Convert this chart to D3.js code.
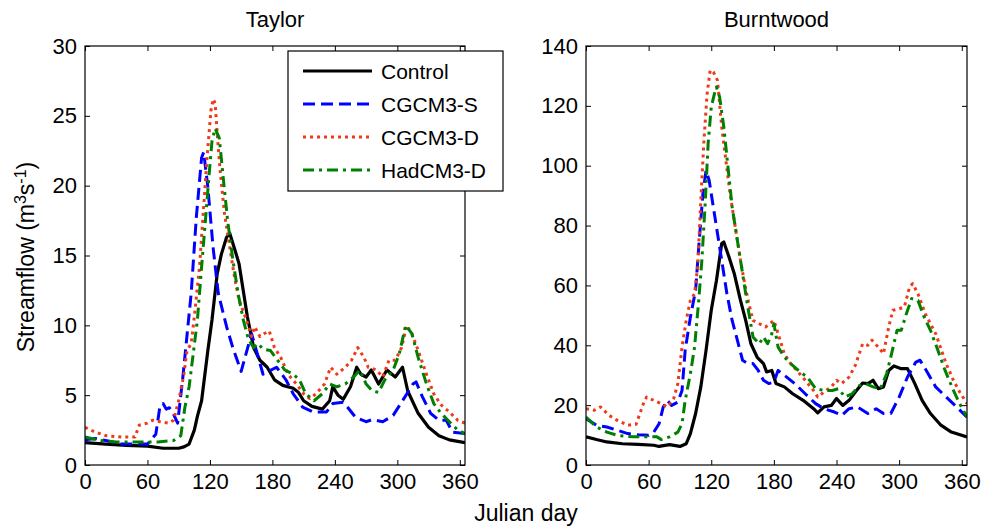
<!DOCTYPE html>
<html>
<head>
<meta charset="utf-8">
<script src="https://cdn.jsdelivr.net/npm/d3@7"></script>
<style>
	body { margin: 0; background: #fff; }
	text { font-family: "Liberation Sans", Arial, sans-serif; fill: #000; }
</style>
</head>
<body>
<div id="chart"></div>
<script>
const WIDTH = 985;
const HEIGHT = 531;
const FONT_SIZE = 22;
const LABEL_SIZE = 23;

const SERIES_NAMES = ['Control', 'CGCM3-S', 'CGCM3-D', 'HadCM3-D'];
const DAY_TICKS = [0, 60, 120, 180, 240, 300, 360];
const TAYLOR_TICKS = [0, 5, 10, 15, 20, 25, 30];
const BURNTWOOD_TICKS = [0, 20, 40, 60, 80, 100, 120, 140];

// [julian day, streamflow m3/s]
const taylorControl = [[0,1.6],[20,1.5],[40,1.4],[60,1.35],[75,1.2],[90,1.2],[95,1.3],[100,1.5],[105,2.5],[108,3.5],[112,4.6],[118,8.2],[122,10.4],[127,13.7],[131,15.1],[136,16.3],[139,16.6],[144,15.4],[148,14.4],[152,12.5],[156,10.6],[162,8.4],[168,7.5],[175,7.0],[182,6.1],[190,5.7],[200,5.5],[205,5.2],[210,4.6],[218,4.2],[228,4.0],[235,4.6],[238,5.6],[243,5.0],[248,4.7],[255,5.6],[261,7.0],[265,6.5],[270,6.3],[275,6.8],[282,5.8],[290,6.8],[298,6.3],[305,7.0],[310,5.3],[320,3.7],[330,2.7],[340,2.1],[350,1.8],[365,1.6]];
const taylorCgcmS = [[0,1.8],[10,1.9],[20,1.75],[35,1.5],[50,1.5],[60,1.5],[68,2.2],[72,4.2],[75,4.4],[78,4.0],[81,4.1],[84,3.8],[89,3.0],[94,6.3],[102,12.3],[107,17.8],[112,22.0],[114,22.4],[118,19.9],[123,15.6],[128,12.3],[136,9.9],[142,8.4],[150,6.7],[160,9.4],[171,6.5],[184,7.0],[193,6.1],[200,5.1],[209,4.15],[219,3.8],[232,3.8],[238,4.4],[248,4.5],[252,4.15],[260,3.4],[270,3.1],[276,3.25],[286,3.1],[296,3.55],[305,4.6],[315,5.8],[318,5.95],[324,4.9],[332,3.7],[340,3.2],[347,3.2],[353,2.35],[365,2.25]];
const taylorCgcmD = [[0,2.7],[10,2.35],[20,2.1],[35,2.0],[48,2.0],[52,2.85],[60,3.0],[65,3.2],[72,3.1],[80,3.0],[85,3.2],[90,4.6],[95,6.5],[98,8.2],[102,8.7],[105,10.6],[110,14.2],[114,18.5],[117,21.8],[121,25.4],[123,26.2],[125,25.9],[127,23.7],[130,20.9],[134,18.0],[138,16.1],[143,13.7],[148,11.8],[155,10.4],[160,9.2],[163,9.9],[168,9.2],[172,9.4],[177,9.6],[182,8.4],[188,7.7],[195,6.5],[203,5.8],[210,5.1],[216,4.75],[222,5.1],[230,5.8],[236,7.0],[242,6.5],[250,7.0],[256,7.5],[262,8.4],[268,7.7],[272,7.0],[280,6.8],[286,6.3],[292,7.5],[298,7.5],[304,8.4],[309,10.0],[314,9.4],[320,8.2],[328,6.5],[335,5.1],[342,4.3],[350,3.8],[358,3.2],[365,3.0]];
const taylorHadcmD = [[0,2.0],[15,1.75],[30,1.65],[50,1.65],[70,1.65],[85,1.75],[92,2.1],[96,4.15],[100,5.6],[104,8.0],[108,10.4],[112,14.2],[116,17.8],[119,20.6],[122,23.2],[125,24.1],[129,23.4],[133,20.4],[137,17.5],[142,14.7],[147,12.3],[152,10.4],[157,9.0],[162,8.4],[166,8.7],[171,8.3],[178,8.2],[185,7.5],[192,6.8],[200,6.5],[206,6.1],[212,5.1],[220,4.6],[228,5.1],[235,5.8],[242,5.6],[250,5.8],[258,6.3],[264,6.8],[270,5.8],[276,5.3],[282,5.2],[288,6.1],[296,6.8],[302,8.0],[308,10.0],[314,9.4],[320,7.7],[328,5.8],[335,4.4],[342,3.7],[350,3.1],[358,2.5],[365,2.25]];

const burntControl = [[0,9.4],[10,8.5],[20,7.7],[35,7.1],[50,6.9],[65,6.6],[70,6.2],[80,6.8],[90,6.2],[96,7.1],[100,10.5],[105,17.2],[110,26.1],[115,38.3],[120,51.7],[125,61.7],[130,74],[132,74.5],[137,69.5],[142,64],[148,55],[153,48.3],[158,40.5],[164,36],[170,33.9],[173,31.1],[178,31.6],[182,27.2],[190,26.1],[198,23.8],[208,21.6],[218,18.8],[222,17.4],[228,19.4],[235,19.9],[240,22.2],[246,19.9],[252,21.6],[258,24.4],[265,27.4],[270,27.2],[275,28.3],[280,25.5],[285,26.1],[290,31.6],[295,33.1],[302,32.2],[308,32.2],[315,27.2],[322,21.6],[330,17.2],[340,13.3],[350,11.0],[365,9.4]];
const burntCgcmS = [[0,15.5],[10,13.3],[20,12.7],[30,11.6],[40,10.5],[50,10.1],[60,9.9],[65,11.0],[70,13.8],[74,19.4],[78,21.6],[82,19.9],[88,21.0],[92,24.9],[95,38.3],[100,49.4],[105,58.4],[108,72.8],[112,90.7],[115,98.4],[118,95.1],[121,88.4],[125,79.5],[130,68.4],[135,57.2],[140,48.3],[145,41.7],[150,35],[155,33.9],[160,33.9],[165,31.6],[170,28.3],[175,27.2],[180,27.7],[184,31.6],[190,30],[200,27.2],[210,23.8],[220,20.5],[228,18.8],[238,17.7],[245,16.6],[252,18.8],[260,19.4],[270,17.2],[278,18.8],[285,17.2],[292,17.2],[300,22.7],[308,29.4],[316,34.4],[320,35],[326,31.6],[335,26.1],[345,22.7],[355,19.4],[365,16]];
const burntCgcmD = [[0,18.8],[8,18.3],[14,19.4],[22,16.6],[30,14.9],[40,13.3],[48,13.6],[55,20.5],[58,22.7],[65,21.6],[72,20.5],[78,19.4],[84,22.2],[88,27.2],[92,39.4],[96,48.3],[100,55],[104,57.2],[107,66.2],[110,88.4],[113,108.5],[116,124],[119,131.9],[122,131.3],[126,128.5],[130,113],[134,101.8],[138,90.7],[143,79.5],[148,68.4],[152,60.6],[156,53.9],[160,48.3],[166,47.2],[172,46.1],[176,47.2],[180,48.3],[185,42.8],[190,37.2],[196,33.9],[202,31.6],[210,28.3],[218,24.9],[222,22.7],[228,24.4],[235,26.1],[240,28.3],[245,27.2],[252,29.4],[258,33.3],[265,40.5],[270,40],[274,41.7],[280,39.4],[285,37.2],[290,46.1],[294,51.7],[300,52.2],[305,52.8],[310,59.5],[313,60.6],[318,57.2],[325,50.6],[330,47.2],[335,43.9],[340,38.9],[345,33.9],[352,28.3],[358,24.4],[365,20.5]];
const burntHadcmD = [[0,16.0],[10,12.7],[20,11.0],[30,9.9],[45,9.4],[60,9.4],[68,9.4],[72,8.5],[80,9.4],[88,11.0],[92,13.8],[95,21.6],[100,30.5],[104,39.4],[108,55],[111,68.4],[114,86.2],[117,107.4],[120,119.6],[123,124],[125,126.3],[128,123],[132,113],[136,99.6],[140,86.2],[145,75.1],[150,64],[155,52.8],[160,42.8],[166,40.5],[170,42.8],[174,40.5],[178,43.9],[180,47.2],[184,39.4],[190,36.1],[196,33.9],[205,31.1],[212,29.4],[220,25.5],[228,24.9],[236,24.9],[242,25.5],[248,22.7],[255,23.8],[262,26.6],[268,27.2],[275,26.1],[282,25.5],[288,30.5],[292,36.1],[298,45],[302,45],[307,50.6],[312,55.6],[318,55],[324,49.4],[330,45],[336,39.4],[344,31.6],[352,24.9],[358,20.5],[365,16]];

const STYLES = [
	{ color: '#000000', dash: null, width: 3.2 },
	{ color: '#0000ff', dash: '12,6', width: 3 },
	{ color: '#ee3a1a', dash: '3,4', width: 3 },
	{ color: '#008000', dash: '11,5,3,5', width: 3 }
];

const PANELS = [
	{ id: 'taylor', title: 'Taylor', left: 85, right: 465, yMax: 30, ticks: TAYLOR_TICKS,
		series: [taylorControl, taylorCgcmS, taylorCgcmD, taylorHadcmD] },
	{ id: 'burnt', title: 'Burntwood', left: 586, right: 967, yMax: 140, ticks: BURNTWOOD_TICKS,
		series: [burntControl, burntCgcmS, burntCgcmD, burntHadcmD] }
];
const TOP = 46;
const BOTTOM = 465;
const TICK = 5;

const svg = d3.select('#chart')
	.append('svg')
	.attr('width', WIDTH)
	.attr('height', HEIGHT);

PANELS.forEach(panel => {
	const xScale = d3.scaleLinear().domain([0, 365]).range([panel.left, panel.right]);
	const yScale = d3.scaleLinear().domain([0, panel.yMax]).range([BOTTOM, TOP]);

	// clip so the lines stay inside the box
	svg.append('clipPath')
		.attr('id', `clip-${panel.id}`)
		.append('rect')
		.attr('x', panel.left)
		.attr('y', TOP)
		.attr('width', panel.right - panel.left)
		.attr('height', BOTTOM - TOP);

	const line = d3.line()
		.x(d => xScale(d[0]))
		.y(d => yScale(d[1]));

	panel.series.forEach((data, i) => {
		svg.append('path')
			.datum(data)
			.attr('clip-path', `url(#clip-${panel.id})`)
			.attr('fill', 'none')
			.attr('stroke', STYLES[i].color)
			.attr('stroke-width', STYLES[i].width)
			.attr('stroke-dasharray', STYLES[i].dash)
			.attr('stroke-linejoin', 'round')
			.attr('d', line);
	});

	// axes, ticks pointing inwards like matlab
	const axes = [
		{ axis: d3.axisBottom(xScale).tickValues(DAY_TICKS), at: `translate(0,${BOTTOM})`, labels: true },
		{ axis: d3.axisTop(xScale).tickValues(DAY_TICKS).tickFormat(''), at: `translate(0,${TOP})` },
		{ axis: d3.axisLeft(yScale).tickValues(panel.ticks), at: `translate(${panel.left},0)`, labels: true },
		{ axis: d3.axisRight(yScale).tickValues(panel.ticks).tickFormat(''), at: `translate(${panel.right},0)` }
	];
	axes.forEach(a => {
		const g = svg.append('g')
			.attr('transform', a.at)
			.call(a.axis.tickSizeInner(-TICK).tickSizeOuter(0).tickPadding(a.labels ? 8 : 0));
		g.select('.domain').remove();
		g.selectAll('line').attr('stroke', '#000');
		g.selectAll('text')
			.style('font-size', `${FONT_SIZE}px`)
			.style('font-family', '"Liberation Sans", Arial, sans-serif')
			.attr('fill', '#000');
	});

	svg.append('rect')
		.attr('x', panel.left)
		.attr('y', TOP)
		.attr('width', panel.right - panel.left)
		.attr('height', BOTTOM - TOP)
		.attr('fill', 'none')
		.attr('stroke', '#000')
		.attr('stroke-width', 1.2);

	svg.append('text')
		.attr('x', (panel.left + panel.right) / 2)
		.attr('y', 27)
		.style('font-size', `${FONT_SIZE}px`)
		.style('text-anchor', 'middle')
		.text(panel.title);
});

// legend
const legend = svg.append('g');
legend.append('rect')
	.attr('x', 288)
	.attr('y', 51)
	.attr('width', 215)
	.attr('height', 140)
	.attr('fill', '#fff')
	.attr('stroke', '#000')
	.attr('stroke-width', 1.2);
SERIES_NAMES.forEach((name, i) => {
	const y = 71 + i * 33;
	legend.append('line')
		.attr('x1', 303)
		.attr('x2', 372)
		.attr('y1', y)
		.attr('y2', y)
		.attr('stroke', STYLES[i].color)
		.attr('stroke-width', STYLES[i].width)
		.attr('stroke-dasharray', STYLES[i].dash);
	legend.append('text')
		.attr('x', 381)
		.attr('y', y)
		.attr('dy', '0.36em')
		.style('font-size', '21px')
		.text(name);
});

// axis titles
svg.append('text')
	.attr('x', 526)
	.attr('y', 521)
	.style('font-size', `${LABEL_SIZE}px`)
	.style('text-anchor', 'middle')
	.text('Julian day');

const yLabel = svg.append('text')
	.attr('transform', 'translate(34,257) rotate(-90)')
	.style('font-size', `${LABEL_SIZE}px`)
	.style('text-anchor', 'middle');
yLabel.append('tspan').text('Streamflow (m');
yLabel.append('tspan').attr('baseline-shift', 'super').style('font-size', '16px').text('3');
yLabel.append('tspan').text('s');
yLabel.append('tspan').attr('baseline-shift', 'super').style('font-size', '16px').text('-1');
yLabel.append('tspan').text(')');
</script>
</body>
</html>
